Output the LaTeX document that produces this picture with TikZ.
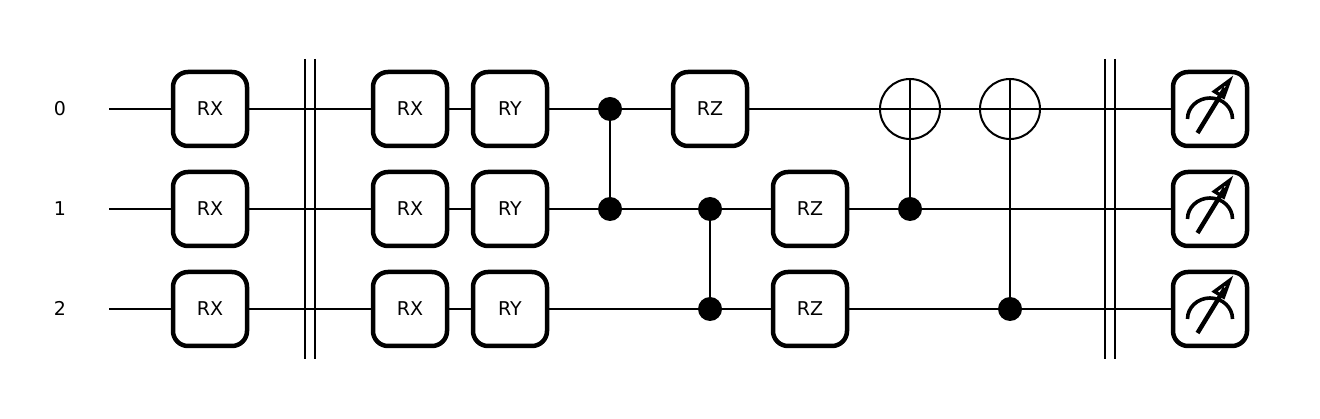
\documentclass[tikz,border=0pt]{standalone}
\usepackage{fontspec}
\setmainfont{DejaVu Sans}

\begin{document}
\begin{tikzpicture}[
		x=1pt, y=-1pt,
		wire/.style    = {draw, line width=2pt},
		gate/.style    = {draw, fill=white, line width=4.5pt, rounded corners=15pt, minimum size=74pt, inner sep=0pt, font=\fontsize{19}{19}\selectfont},
		ctrl/.style    = {circle, fill=black, minimum size=24pt, inner sep=0pt},
		target/.style  = {circle, draw, line width=2pt, minimum size=60pt, inner sep=0pt},
		qlabel/.style  = {inner sep=0pt, text height=14pt, text depth=0pt, font=\fontsize{19}{19}\selectfont},
		dial/.style    = {line width=4.5pt, line cap=butt}]
		
		\useasboundingbox (0,0) rectangle (1320,419);
		
		% Qubit rows, with their columns of gates
		\foreach \q/\y in {0/109,1/209,2/309} {
			\node[qlabel] (l\q) at (60,\y) {\q};
			\coordinate (w\q) at (109,\y);
			\node[gate] (a\q) at (210,\y) {RX};
			\node[gate] (c\q) at (410,\y) {RX};
			\node[gate] (d\q) at (510,\y) {RY};
			\node[gate] (m\q) at (1210,\y) {};
		}
		
		% Rotations after the first layer
		\node[gate] (e0) at (710,109) {RZ};
		\node[gate] (f1) at (810,209) {RZ};
		\node[gate] (f2) at (810,309) {RZ};
		
		% Controls and targets
		\node[ctrl] (p0) at (610,109) {};
		\node[ctrl] (p1) at (610,209) {};
		\node[ctrl] (q1) at (710,209) {};
		\node[ctrl] (q2) at (710,309) {};
		\node[ctrl] (r1) at (910,209) {};
		\node[ctrl] (s2) at (1010,309) {};
		\node[target] (r0) at (910,109) {};
		\node[target] (s0) at (1010,109) {};
		
		% Barriers
		\foreach \b/\x in {b1/305,b2/315,b3/1105,b4/1115} {
			\coordinate (\b t) at (\x,59);
			\coordinate (\b b) at (\x,359);
			\draw[wire] (\b t) -- (\b b);
		}
		
		% Wires between neighbours on each row
		\foreach \from/\to in {w0/a0,a0/c0,c0/d0,d0/p0,p0/e0,e0/r0.center,r0.center/s0.center,s0.center/m0,
				w1/a1,a1/c1,c1/d1,d1/p1,p1/q1,q1/f1,f1/r1,r1/m1,
				w2/a2,a2/c2,c2/d2,d2/q2,q2/f2,f2/s2,s2/m2}
		\draw[wire] (\from) -- (\to);
		
		% Vertical links
		\draw[wire] (p0) -- (p1);
		\draw[wire] (q1) -- (q2);
		\draw[wire] (r0.north) -- (r1);
		\draw[wire] (s0.north) -- (s2);
		
		% Dials inside the measurement boxes
		\foreach \q in {0,1,2} {
			\begin{scope}[shift={(m\q.center)}]
				\draw[dial, line width=3.6pt] (-22.5,10) arc[start angle=180, end angle=360, x radius=22.5, y radius=21];
				\draw[dial] (-12.5,24) -- (15,-21);
				\draw[line width=3.5pt, miter limit=10, line join=miter] (19.5,-28.5) -- (4.5,-17.5) -- (13.5,-12) -- cycle;
			\end{scope}
		}
		
	\end{tikzpicture}
\end{document}
